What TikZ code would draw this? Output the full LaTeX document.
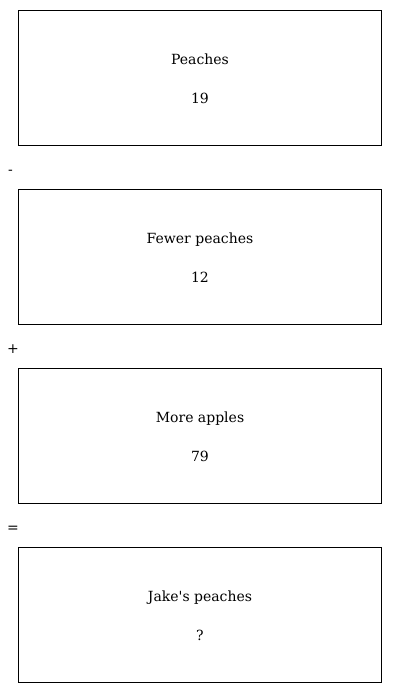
\documentclass[tikz,border=0pt]{standalone}
\usepackage{fontspec}
\setmainfont{DejaVu Serif}[Ligatures=TeXOff]
\begin{document}
\begin{tikzpicture}[x=1pt,y=-1pt,
  box/.style={draw,line width=1pt,minimum width=363pt,minimum height=135pt,anchor=north west,inner sep=0pt},
  lbl/.style={font=\fontsize{14}{17}\selectfont,anchor=base},
  op/.style={font=\fontsize{14}{17}\selectfont,anchor=base west,inner sep=0pt}]
\useasboundingbox (0,0) rectangle (400,693);
\foreach \i/\y/\t/\v in {1/10/Peaches/19, 2/189/Fewer peaches/12, 3/368/More apples/79, 4/547/Jake's peaches/?}{
  \node[box] (b\i) at (18,\y) {};
  \node[lbl] (t\i) at ([yshift=-54pt]b\i.north) {\t};
  \node[lbl] (v\i) at ([yshift=-93pt]b\i.north) {\v};
}
\node[op] (o1) at (8,174) {-};
\node[op] (o2) at (7,353) {+};
\node[op] (o3) at (7,532) {=};
\end{tikzpicture}
\end{document}
